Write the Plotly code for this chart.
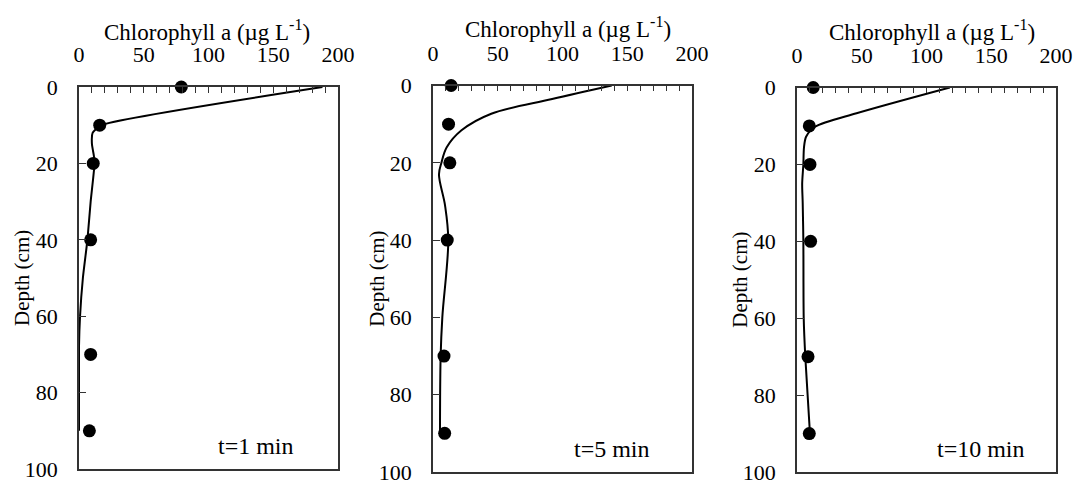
import plotly.graph_objects as go

# ---------------- data ----------------
depth_obs = [0, 10, 20, 40, 70, 90]

chl_obs_1 = [79, 16, 11, 9, 9, 8]
chl_obs_5 = [14, 12, 13, 11, 8.5, 9]
chl_obs_10 = [12.5, 9.5, 10, 10.5, 8.5, 9.5]

curve_depth_1 = [0, 10, 12, 15, 18, 20, 30, 40, 50, 60, 68, 90]
curve_chl_1 = [188, 17, 10.5, 10, 11.5, 12, 9, 6.5, 3, 0.8, 0, 0]

curve_depth_5 = [0, 3.5, 7.3, 11.6, 16, 20, 23, 31, 40, 60, 70, 90]
curve_chl_5 = [138, 92, 45, 22, 10.6, 6.5, 4.6, 9.3, 11.8, 7.2, 5.9, 5.4]

curve_depth_10 = [0, 6.7, 10.2, 12.8, 15.6, 20, 25, 30, 40, 60, 70, 90]
curve_chl_10 = [118, 46, 14, 7, 5.4, 4.9, 4.0, 4.4, 4.9, 5.2, 6.4, 10]

panel_labels = ["t=1 min", "t=5 min", "t=10 min"]
x_ticks = [0, 50, 100, 150, 200]
y_ticks = [0, 20, 40, 60, 80, 100]
x_title = "Chlorophyll a (µg L<sup>-1</sup>)"
y_title = "Depth (cm)"

# ---------------- layout geometry ----------------
# the page body has an 8px margin; the figure starts at (8, 8) and runs to the window edge
OFF = 8
W, H = 1084 - OFF, 485 - OFF
FONT = "Liberation Serif, Times New Roman, serif"


def fx(px):
    return (px - OFF) / W


def fy(py):
    return 1 - (py - OFF) / H


panels = [
    dict(obs=chl_obs_1, cx=curve_chl_1, cy=curve_depth_1, px=(79, 338), py=(87, 469),
         title_x=207, title_y=30, ytitle_x=22, label_pos=(137, 94), smooth=0.5),
    dict(obs=chl_obs_5, cx=curve_chl_5, cy=curve_depth_5, px=(433, 692), py=(85.5, 472),
         title_x=568, title_y=28, ytitle_x=377, label_pos=(138, 94), smooth=1.0),
    dict(obs=chl_obs_10, cx=curve_chl_10, cy=curve_depth_10, px=(797, 1056), py=(87.5, 472),
         title_x=932, title_y=30, ytitle_x=740, label_pos=(142, 94), smooth=0.8),
]

fig = go.Figure()
annotations = []
for i, p in enumerate(panels):
    k = "" if i == 0 else str(i + 1)
    xa, ya = "x" + k, "y" + k
    fig.add_trace(go.Scatter(
        x=p["cx"], y=p["cy"], xaxis=xa, yaxis=ya, mode="lines",
        line=dict(color="black", width=2, shape="spline", smoothing=p["smooth"]),
        showlegend=False, hoverinfo="skip", cliponaxis=False))
    fig.add_trace(go.Scatter(
        x=p["obs"], y=depth_obs, xaxis=xa, yaxis=ya, mode="markers",
        marker=dict(color="black", size=13), showlegend=False, cliponaxis=False))

    x0, x1 = p["px"]
    y0, y1 = p["py"]
    xaxis = dict(
        domain=[fx(x0), fx(x1)], anchor=ya, side="top", range=[0, 200],
        tickvals=x_ticks, ticks="inside", ticklen=6, tickcolor="#333",
        minor=dict(dtick=10, ticks="inside", ticklen=6, tickcolor="#333"),
        showline=True, linecolor="#333", linewidth=1.5, mirror=True,
        showgrid=False, zeroline=False, ticklabelstandoff=14,
        ticklabeloverflow="allow", automargin=False,
        tickfont=dict(family=FONT, size=22, color="black"),
    )
    yaxis = dict(
        domain=[fy(y1), fy(y0)], anchor=xa, range=[100, 0],
        tickvals=y_ticks, ticks="inside", ticklen=7, tickcolor="#333",
        showline=True, linecolor="#333", linewidth=1.5, mirror=True,
        showgrid=False, zeroline=False, ticklabelstandoff=15,
        ticklabeloverflow="allow", automargin=False,
        tickfont=dict(family=FONT, size=22, color="black"),
    )
    fig.update_layout({"xaxis" + k: xaxis, "yaxis" + k: yaxis})

    annotations.append(dict(
        text=x_title, xref="paper", yref="paper", x=fx(p["title_x"]), y=fy(p["title_y"]),
        xanchor="center", yanchor="middle", showarrow=False,
        font=dict(family=FONT, size=23, color="black")))
    annotations.append(dict(
        text=y_title, xref="paper", yref="paper", x=fx(p["ytitle_x"]),
        y=fy((y0 + y1) / 2), xanchor="center", yanchor="middle",
        textangle=-90, showarrow=False,
        font=dict(family=FONT, size=21, color="black")))
    annotations.append(dict(
        text=panel_labels[i], xref=xa, yref=ya, x=p["label_pos"][0], y=p["label_pos"][1],
        xanchor="center", yanchor="middle", showarrow=False,
        font=dict(family=FONT, size=24, color="black")))

fig.update_layout(
    width=W, height=H,
    margin=dict(l=0, r=0, t=0, b=0, pad=0, autoexpand=False),
    paper_bgcolor="white", plot_bgcolor="white",
    annotations=annotations, showlegend=False,
)

fig.write_html("out.html")
